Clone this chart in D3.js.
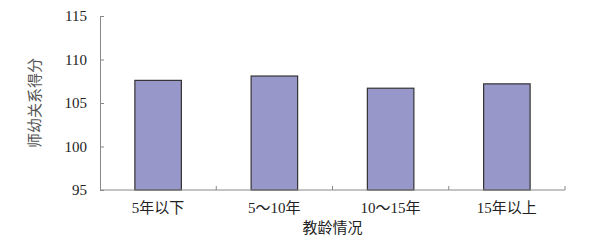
<!DOCTYPE html>
<html>
<head>
<meta charset="utf-8">
<script src="https://cdn.jsdelivr.net/npm/d3@7"></script>
<style>
  body { margin: 0; background: #fff; }
  svg text { font-family: "Liberation Serif", "Noto Sans CJK SC", serif; fill: #222; }
</style>
</head>
<body>
<div id="chart"></div>
<script>
"use strict";
const WIDTH = 594;
const HEIGHT = 244;
const MARGIN = {top: 16, right: 29, bottom: 54, left: 100};

const categories = ["5年以下", "5～10年", "10～15年", "15年以上"];
const scores = [107.6, 108.1, 106.7, 107.2];
const yTicks = [95, 100, 105, 110, 115];

const svg = d3.select("#chart").append("svg")
    .attr("width", WIDTH)
    .attr("height", HEIGHT);

const x0 = MARGIN.left, x1 = WIDTH - MARGIN.right;
const y0 = HEIGHT - MARGIN.bottom, y1 = MARGIN.top;

// category slots (for ticks) and bars
const xSlot = d3.scaleBand().domain(categories).range([x0, x1]).padding(0);
const xBar = d3.scaleBand().domain(categories).range([x0, x1])
    .paddingInner(0.6).paddingOuter(0.3);
const y = d3.scaleLinear().domain([95, 115]).range([y0, y1]);

svg.append("g")
    .selectAll("rect")
    .data(scores)
    .enter()
    .append("rect")
    .attr("x", (d, i) => xBar(categories[i]))
    .attr("y", d => y(d))
    .attr("width", xBar.bandwidth())
    .attr("height", d => y0 - y(d))
    .style("fill", "#9797c9")
    .style("stroke", "#333")
    .style("stroke-width", 1.2);

// y axis
const yAxis = svg.append("g")
    .attr("transform", "translate(" + x0 + ",0)")
    .call(d3.axisLeft(y).tickValues(yTicks).tickSize(-4).tickPadding(13));
yAxis.select(".domain").attr("stroke", "#888");
yAxis.selectAll(".tick line").attr("stroke", "#888");
yAxis.selectAll("text").style("font-size", "15px").attr("fill", "#222");

// x axis, ticks between categories
const xAxis = svg.append("g")
    .attr("transform", "translate(0," + y0 + ")");
xAxis.append("line")
    .attr("x1", x0).attr("x2", x1)
    .attr("stroke", "#888");
xAxis.selectAll(".sep")
    .data(categories)
    .enter()
    .append("line")
    .attr("x1", d => xSlot(d) + xSlot.bandwidth())
    .attr("x2", d => xSlot(d) + xSlot.bandwidth())
    .attr("y1", 0).attr("y2", -4)
    .attr("stroke", "#888");
xAxis.selectAll(".lab")
    .data(categories)
    .enter()
    .append("text")
    .attr("x", d => xSlot(d) + xSlot.bandwidth() / 2)
    .attr("y", 23)
    .attr("text-anchor", "middle")
    .style("font-size", "15px")
    .text(d => d);

svg.append("text")
    .attr("x", (x0 + x1) / 2)
    .attr("y", 233)
    .attr("text-anchor", "middle")
    .style("font-size", "15px")
    .text("教龄情况");

svg.append("text")
    .attr("transform", "translate(40," + ((y0 + y1) / 2) + ") rotate(-90)")
    .attr("text-anchor", "middle")
    .style("font-size", "15px")
    .style("fill", "#555")
    .text("师幼关系得分");
</script>
</body>
</html>
